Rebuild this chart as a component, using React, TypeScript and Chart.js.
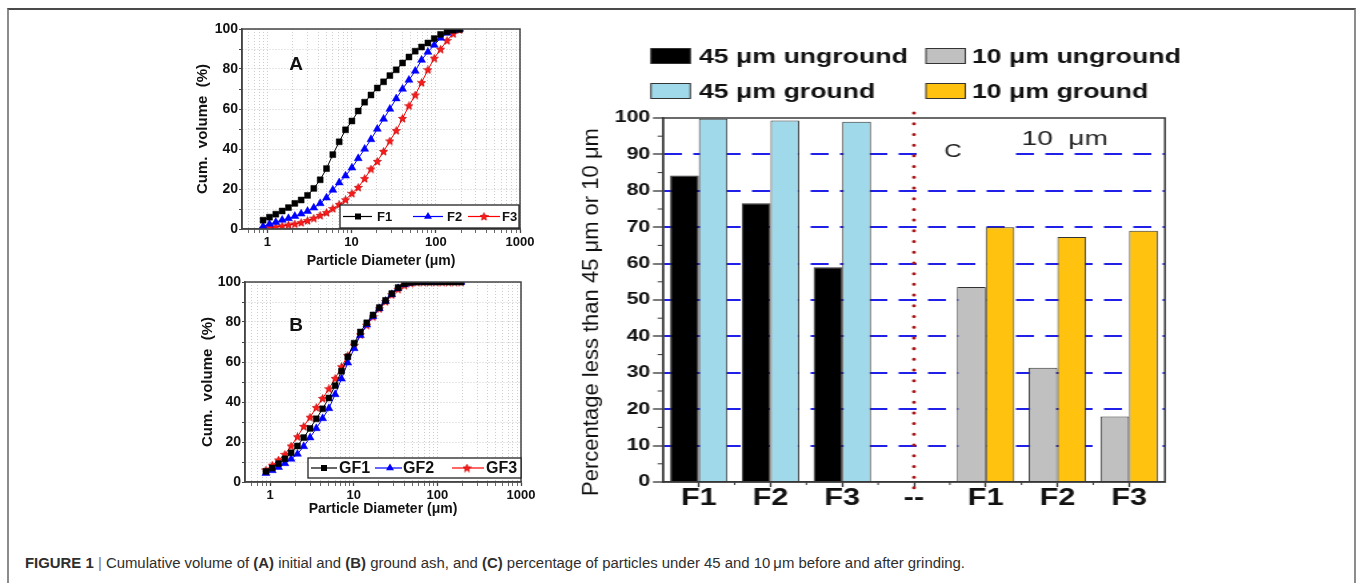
import React, { useEffect, useLayoutEffect, useRef } from 'react';
import { Chart, registerables } from 'chart.js';

Chart.register(...registerables);

const FONT = "'Liberation Sans', Arial, Helvetica, sans-serif";
Chart.defaults.font.family = FONT;
Chart.defaults.color = '#111';

// ---------------- data ----------------
// particle-size bins (µm)
const diametersUm = [0.89, 1.06, 1.26, 1.5, 1.78, 2.12, 2.52, 3.0, 3.56, 4.24, 5.04, 5.99, 7.13, 8.48, 10.1, 12.0, 14.3, 17.0, 20.2, 24.0, 28.5, 33.9, 40.3, 48.0, 57.0, 67.8, 80.6, 95.9, 114, 136, 161, 192];

// panel A: initial ash, cumulative volume (%)
const f1Cum = [4.4, 5.9, 7.4, 9.0, 10.7, 12.8, 14.5, 16.8, 20.3, 24.6, 30.2, 37.2, 43.6, 49.6, 54.0, 59.0, 63.4, 67.0, 70.5, 73.6, 76.7, 79.6, 83.0, 86.0, 88.9, 91.0, 93.0, 95.2, 97.3, 98.6, 99.4, 99.8];
const f2Cum = [1.3, 2.5, 3.4, 4.5, 5.3, 6.4, 7.6, 8.9, 10.6, 12.8, 15.6, 19.5, 23.2, 26.6, 30.6, 35.3, 40.0, 44.8, 50.0, 55.0, 60.0, 65.2, 70.0, 74.5, 79.0, 84.5, 88.5, 92.0, 95.5, 98.0, 99.4, 100];
const f3Cum = [0.4, 0.7, 1.0, 1.5, 2.0, 2.5, 3.2, 4.2, 5.4, 6.8, 8.2, 10.2, 12.3, 14.6, 17.8, 20.8, 25.2, 30.0, 33.8, 38.8, 44.0, 49.2, 55.3, 61.6, 67.0, 73.2, 79.6, 85.4, 89.9, 94.2, 97.6, 99.6];

// panel B: ground ash, cumulative volume (%)
const gf1Cum = [5.3, 7.0, 9.2, 11.6, 14.6, 18.0, 22.2, 26.8, 31.6, 36.6, 42.0, 48.2, 55.4, 62.6, 69.4, 75.0, 79.6, 83.5, 87.2, 90.8, 94.2, 97.2, 99.2, 99.8, 100, 100, 100, 100, 100, 100, 100, 100];
const gf2Cum = [4.4, 5.8, 7.4, 9.3, 11.5, 14.0, 17.8, 22.2, 26.8, 31.8, 36.8, 43.8, 51.6, 59.6, 66.8, 73.4, 78.6, 82.8, 86.8, 90.4, 93.8, 96.8, 98.8, 99.6, 100, 100, 100, 100, 100, 100, 100, 100];
const gf3Cum = [6.0, 8.4, 11.0, 13.8, 18.0, 22.6, 27.8, 32.4, 37.2, 41.8, 46.6, 51.8, 57.6, 63.2, 68.4, 73.6, 78.4, 82.6, 86.6, 90.2, 93.6, 96.4, 98.4, 99.4, 99.9, 100, 100, 100, 100, 100, 100, 100];

// log axis ticks
const logTickValues = [0.6, 0.7, 0.8, 0.9, 1, 2, 3, 4, 5, 6, 7, 8, 9, 10, 20, 30, 40, 50, 60, 70, 80, 90, 100, 200, 300, 400, 500, 600, 700, 800, 900, 1000];
const logTickLabels = [1, 10, 100, 1000];

// panel C: percentage finer than the sieve size
const barCategories = ['F1', 'F2', 'F3', '--', 'F1', 'F2', 'F3'];
const barSieveUm = [45, 45, 45, 0, 10, 10, 10];
const ungroundPct = [84.2, 76.6, 59.0, null, 53.6, 31.4, 18.0];
const groundPct = [99.8, 99.3, 99.0, null, 70.0, 67.3, 69.0];
const barLegendLabels = ['45 \u03bcm unground', '10 \u03bcm unground', '45 \u03bcm ground', '10 \u03bcm ground'];

const CAPTION_WIDTH = 940;

// ---------------- helpers ----------------
function makeStarImage(size: number, fill: string): HTMLCanvasElement {
  const c = document.createElement('canvas');
  c.width = size;
  c.height = size;
  const ctx = c.getContext('2d') as CanvasRenderingContext2D;
  const cx = size / 2, cy = size / 2 + 0.3;
  const R = size / 2 - 0.3, r = R * 0.45;
  ctx.beginPath();
  for (let i = 0; i < 10; i++) {
    const a = -Math.PI / 2 + (i * Math.PI) / 5;
    const rad = i % 2 === 0 ? R : r;
    ctx.lineTo(cx + rad * Math.cos(a), cy + rad * Math.sin(a));
  }
  ctx.closePath();
  ctx.fillStyle = fill;
  ctx.fill();
  ctx.strokeStyle = '#c00000';
  ctx.lineWidth = 0.7;
  ctx.stroke();
  return c;
}

function drawMarker(ctx: CanvasRenderingContext2D, kind: string, x: number, y: number, color: string, star: HTMLCanvasElement) {
  ctx.fillStyle = color;
  if (kind === 'rect') {
    ctx.fillRect(x - 3, y - 3, 6, 6);
  } else if (kind === 'triangle') {
    const r = 4.6;
    ctx.beginPath();
    ctx.moveTo(x, y - r);
    ctx.lineTo(x + 0.866 * r, y + r / 2);
    ctx.lineTo(x - 0.866 * r, y + r / 2);
    ctx.closePath();
    ctx.fill();
  } else {
    ctx.drawImage(star, x - star.width / 2, y - star.height / 2);
  }
}

interface CurveSeries { label: string; values: number[]; color: string; marker: string; }
interface CurvePanel {
  series: CurveSeries[];
  padLeft: number; padRight: number; yAxisWidth: number; xAxisHeight: number;
  letter: string; letterDx: number; letterDy: number;
  legend: { dx: number; dy: number; w: number; h: number; font: number; items: { l1: number; l2: number; m: number; t: number }[] };
}

function buildCurveConfig(p: CurvePanel): any {
  const star = makeStarImage(9, '#ff1a1a');
  const datasets = p.series.map((s) => ({
    label: s.label,
    data: diametersUm.map((d, i) => ({ x: d, y: s.values[i] })),
    borderColor: s.color,
    backgroundColor: s.color,
    borderWidth: 1,
    pointStyle: s.marker === 'star' ? star : s.marker,
    pointRadius: s.marker === 'rect' ? 4.2 : s.marker === 'triangle' ? 4.6 : 4.5,
    pointBackgroundColor: s.color,
    pointBorderColor: s.color,
    pointBorderWidth: 0.5,
    tension: 0,
  }));

  const decor = {
    id: 'curveDecor',
    afterDraw(chart: any) {
      const { ctx, chartArea: ca } = chart;
      ctx.save();
      // plot frame
      ctx.strokeStyle = '#444';
      ctx.lineWidth = 1.5;
      ctx.strokeRect(ca.left, ca.top, ca.right - ca.left, ca.bottom - ca.top);
      // panel letter
      ctx.fillStyle = '#111';
      ctx.font = `bold 19px ${FONT}`;
      ctx.textAlign = 'center';
      ctx.textBaseline = 'middle';
      ctx.fillText(p.letter, ca.left + p.letterDx, ca.top + p.letterDy);
      // legend box
      const L = p.legend;
      const bx = ca.right + L.dx, by = ca.bottom + L.dy;
      ctx.fillStyle = '#fff';
      ctx.fillRect(bx, by, L.w, L.h);
      ctx.strokeStyle = '#222';
      ctx.lineWidth = 1.3;
      ctx.strokeRect(bx, by, L.w, L.h);
      const cy = by + L.h / 2;
      p.series.forEach((s, i) => {
        const it = L.items[i];
        ctx.strokeStyle = s.color;
        ctx.lineWidth = 1.2;
        ctx.beginPath();
        ctx.moveTo(bx + it.l1, cy);
        ctx.lineTo(bx + it.l2, cy);
        ctx.stroke();
        drawMarker(ctx, s.marker, bx + it.m, cy, s.color, star);
        ctx.fillStyle = '#111';
        ctx.font = `bold ${L.font}px ${FONT}`;
        ctx.textAlign = 'left';
        ctx.textBaseline = 'middle';
        ctx.fillText(s.label, bx + it.t, cy + 0.5);
      });
      ctx.restore();
    },
  };

  const isMajor = (ctx: any) => !!ctx.tick && logTickLabels.includes(ctx.tick.value);

  return {
    type: 'line',
    data: { datasets },
    options: {
      animation: false,
      responsive: false,
      devicePixelRatio: 1,
      layout: { padding: { left: p.padLeft, top: 14, right: p.padRight, bottom: 0 } },
      plugins: { legend: { display: false }, tooltip: { enabled: false } },
      scales: {
        x: {
          type: 'logarithmic',
          min: 0.5,
          max: 1000,
          afterBuildTicks: (s: any) => { s.ticks = logTickValues.map((v) => ({ value: v })); },
          afterFit: (s: any) => { s.height = p.xAxisHeight; },
          ticks: {
            autoSkip: false,
            maxRotation: 0,
            padding: 2,
            color: '#111',
            font: { size: 13, weight: 'bold' },
            callback: (v: any) => (logTickLabels.includes(Number(v)) ? String(v) : ''),
          },
          grid: {
            color: '#cdcdcd',
            lineWidth: 1,
            tickLength: 4,
            tickColor: '#444',
            tickWidth: (c: any) => (isMajor(c) ? 1.3 : 0.8),
          },
          border: { color: '#444', width: 1.5, dash: [1, 2] },
          title: { display: true, text: 'Particle Diameter (\u03bcm)', color: '#111', font: { size: 14, weight: 'bold' }, padding: 0 },
        },
        y: {
          min: 0,
          max: 100,
          afterFit: (s: any) => { s.width = p.yAxisWidth; },
          ticks: {
            stepSize: 10,
            autoSkip: false,
            padding: 1,
            color: '#111',
            font: { size: 14, weight: 'bold' },
            callback: (v: any) => (Number(v) % 20 === 0 ? String(v) : ''),
          },
          grid: { color: '#cdcdcd', lineWidth: 1, tickLength: 3, tickColor: '#444', tickWidth: 1 },
          border: { color: '#444', width: 1.5, dash: [1, 2] },
          title: { display: true, text: 'Cum.  volume  (%)', color: '#111', font: { size: 15, weight: 'bold' }, padding: 0 },
        },
      },
    },
    plugins: [decor],
  };
}

const barColor = (sieve: number, ground: boolean) =>
  sieve === 45 ? (ground ? '#a0d9e9' : '#000000') : ground ? '#ffc20e' : '#c0c0c0';

function buildBarConfig(): any {
  const S = 4 / 3; // horizontal stretch of the panel
  const legendItems = [
    { label: barLegendLabels[0], color: barColor(45, false), col: 0, row: 0 },
    { label: barLegendLabels[1], color: barColor(10, false), col: 1, row: 0 },
    { label: barLegendLabels[2], color: barColor(45, true), col: 0, row: 1 },
    { label: barLegendLabels[3], color: barColor(10, true), col: 1, row: 1 },
  ];
  const decor = {
    id: 'barDecor',
    afterDraw(chart: any) {
      const { ctx, chartArea: ca, scales } = chart;
      const xs = scales.x, ys = scales.y;
      ctx.save();
      // white patch behind the panel label
      ctx.fillStyle = '#fff';
      ctx.fillRect(ca.left + 192, ca.top + 22, 70, 26);
      ctx.fillStyle = '#222';
      ctx.textBaseline = 'middle';
      ctx.textAlign = 'center';
      ctx.font = `18px ${FONT}`;
      ctx.fillText('C', ca.left + 217.5, ca.top + 34);
      ctx.textAlign = 'left';
      ctx.font = `21px ${FONT}`;
      ctx.fillText('10  \u03bcm', ca.left + 269, ca.top + 21);

      // minor ticks
      ctx.strokeStyle = '#333';
      ctx.lineWidth = 1;
      ctx.beginPath();
      for (let v = 5; v < 100; v += 10) {
        const py = ys.getPixelForValue(v);
        ctx.moveTo(ca.left - 4, py);
        ctx.lineTo(ca.left, py);
      }
      for (let i = 0; i < barCategories.length - 1; i++) {
        const px = (xs.getPixelForValue(i) + xs.getPixelForValue(i + 1)) / 2;
        ctx.moveTo(px, ca.bottom);
        ctx.lineTo(px, ca.bottom + 3);
      }
      ctx.stroke();

      // frame
      ctx.strokeStyle = '#3a3a3a';
      ctx.lineWidth = 1.5;
      ctx.strokeRect(ca.left, ca.top, ca.right - ca.left, ca.bottom - ca.top);

      // red dotted separator at the '--' category
      const sepX = xs.getPixelForValue(barSieveUm.indexOf(0));
      ctx.strokeStyle = '#a81818';
      ctx.lineWidth = 3;
      ctx.lineCap = 'round';
      ctx.setLineDash([0.01, 10.7]);
      ctx.beginPath();
      ctx.moveTo(sepX, ca.top - 5);
      ctx.lineTo(sepX, ca.bottom + 6);
      ctx.stroke();
      ctx.setLineDash([]);
      ctx.lineCap = 'butt';

      // legend
      const rowY = [ca.top - 62, ca.top - 27];
      const cols = [
        { box: ca.left - 9, text: ca.left + 27 },
        { box: ca.left + 197.25, text: ca.left + 231.75 },
      ];
      ctx.font = `bold 20px ${FONT}`;
      ctx.textAlign = 'left';
      ctx.textBaseline = 'middle';
      legendItems.forEach((it) => {
        const cx = cols[it.col], cy = rowY[it.row];
        ctx.fillStyle = it.color;
        ctx.fillRect(cx.box, cy - 7.5, 29.5, 15);
        ctx.strokeStyle = '#333';
        ctx.lineWidth = 1;
        ctx.strokeRect(cx.box, cy - 7.5, 29.5, 15);
        ctx.fillStyle = '#111';
        ctx.fillText(it.label, cx.text, cy + 1);
      });

      // y-axis title, drawn un-stretched
      ctx.save();
      ctx.translate(ca.left - 53.25, (ca.top + ca.bottom) / 2 + 12);
      ctx.scale(1 / S, 1);
      ctx.rotate(-Math.PI / 2);
      ctx.font = `22px ${FONT}`;
      ctx.textAlign = 'center';
      ctx.textBaseline = 'middle';
      ctx.fillStyle = '#111';
      ctx.fillText('Percentage less than 45 \u03bcm or 10 \u03bcm', 0, 0);
      ctx.restore();

      ctx.restore();
    },
  };

  return {
    type: 'bar',
    data: {
      labels: barCategories,
      datasets: [
        {
          label: 'unground',
          data: ungroundPct,
          backgroundColor: barSieveUm.map((s) => barColor(s, false)),
          borderColor: '#333',
          borderWidth: 1,
          categoryPercentage: 0.8,
          barPercentage: 1.0,
        },
        {
          label: 'ground',
          data: groundPct,
          backgroundColor: barSieveUm.map((s) => barColor(s, true)),
          borderColor: '#333',
          borderWidth: 1,
          categoryPercentage: 0.8,
          barPercentage: 1.0,
        },
      ],
    },
    options: {
      animation: false,
      responsive: false,
      devicePixelRatio: 1,
      layout: { padding: { left: 0, top: 88, right: 18.75, bottom: 0 } },
      plugins: { legend: { display: false }, tooltip: { enabled: false } },
      scales: {
        x: {
          type: 'category',
          offset: true,
          afterFit: (s: any) => { s.height = 38; },
          grid: { offset: false, drawOnChartArea: false, drawTicks: true, tickLength: 5, tickColor: '#333', tickWidth: 1.3 },
          border: { color: '#333', width: 1.5 },
          ticks: { autoSkip: false, maxRotation: 0, padding: 0, color: '#111', font: { size: 23, weight: 'bold', lineHeight: 1 } },
        },
        y: {
          min: 0,
          max: 100,
          afterFit: (s: any) => { s.width = 72.75; },
          ticks: { stepSize: 10, padding: 2, color: '#111', font: { size: 16, weight: 'bold' } },
          grid: {
            color: (c: any) => (c.tick && (c.tick.value === 0 || c.tick.value === 100) ? 'rgba(0,0,0,0)' : '#2020e8'),
            lineWidth: 2,
            tickLength: 7.5,
            tickColor: '#333',
            tickWidth: 1.3,
            tickBorderDash: [],
          },
          border: { color: '#333', width: 1.5, dash: [13.5, 8.5] },
        },
      },
    },
    plugins: [decor],
  };
}

const panelA: CurvePanel = {
  series: [
    { label: 'F1', values: f1Cum, color: '#000000', marker: 'rect' },
    { label: 'F2', values: f2Cum, color: '#0000ff', marker: 'triangle' },
    { label: 'F3', values: f3Cum, color: '#ff0000', marker: 'star' },
  ],
  padLeft: 6, padRight: 30, yAxisWidth: 48, xAxisHeight: 41,
  letter: 'A', letterDx: 54, letterDy: 36,
  legend: {
    dx: -180, dy: -24, w: 179, h: 23, font: 13,
    items: [
      { l1: 3, l2: 32, m: 18, t: 37 },
      { l1: 73, l2: 103, m: 88, t: 107 },
      { l1: 128, l2: 160, m: 144, t: 162 },
    ],
  },
};

const panelB: CurvePanel = {
  series: [
    { label: 'GF1', values: gf1Cum, color: '#000000', marker: 'rect' },
    { label: 'GF2', values: gf2Cum, color: '#0000ff', marker: 'triangle' },
    { label: 'GF3', values: gf3Cum, color: '#ff0000', marker: 'star' },
  ],
  padLeft: 7.5, padRight: 32, yAxisWidth: 46.5, xAxisHeight: 36,
  letter: 'B', letterDx: 51, letterDy: 44,
  legend: {
    dx: -213, dy: -24, w: 213, h: 20, font: 16,
    items: [
      { l1: 3, l2: 29, m: 16, t: 31 },
      { l1: 67, l2: 94, m: 82, t: 95 },
      { l1: 144, l2: 176, m: 159, t: 178 },
    ],
  },
};

export default function App() {
  const aRef = useRef<HTMLCanvasElement>(null);
  const bRef = useRef<HTMLCanvasElement>(null);
  const cRef = useRef<HTMLCanvasElement>(null);
  const capRef = useRef<HTMLDivElement>(null);

  useEffect(() => {
    const charts = [
      new Chart(aRef.current as HTMLCanvasElement, buildCurveConfig(panelA)),
      new Chart(bRef.current as HTMLCanvasElement, buildCurveConfig(panelB)),
      new Chart(cRef.current as HTMLCanvasElement, buildBarConfig()),
    ];
    return () => charts.forEach((c) => c.destroy());
  }, []);

  useLayoutEffect(() => {
    const el = capRef.current;
    if (!el) return;
    el.style.transform = 'none';
    const w = el.getBoundingClientRect().width;
    if (w > 0) el.style.transform = `scaleX(${CAPTION_WIDTH / w})`;
  }, []);

  return (
    <div style={{ position: 'absolute', left: 0, top: 0, width: 1358, height: 583, overflow: 'hidden', background: '#fff' }}>
      <div
        style={{
          position: 'absolute', left: 7, top: 8, width: 1349, height: 620, boxSizing: 'border-box',
          borderTop: '2px solid #4a4a4a', borderLeft: '2px solid #8c8c8c', borderRight: '2px solid #8c8c8c',
        }}
      />
      <canvas ref={aRef} width={362} height={255} style={{ position: 'absolute', left: 188, top: 15 }} />
      <canvas ref={bRef} width={362} height={250} style={{ position: 'absolute', left: 191, top: 268 }} />
      <div style={{ position: 'absolute', left: 566, top: 30, width: 468, height: 490, transform: 'scaleX(1.333333)', transformOrigin: '0 0' }}>
        <canvas ref={cRef} width={468} height={490} />
      </div>
      <div
        ref={capRef}
        style={{
          position: 'absolute', left: 25, top: 554, whiteSpace: 'nowrap', transformOrigin: '0 0',
          fontFamily: "'Liberation Sans Narrow', 'Liberation Sans', Arial, sans-serif", fontSize: 15.5, color: '#2e2e2e', lineHeight: '18px',
        }}
      >
        <b>FIGURE 1</b> <span style={{ color: '#777' }}>|</span> Cumulative volume of <b>(A)</b> initial and <b>(B)</b> ground ash, and <b>(C)</b> percentage of particles under 45 and 10{'\u2009'}{'\u03bc'}m before and after grinding.
      </div>
    </div>
  );
}
